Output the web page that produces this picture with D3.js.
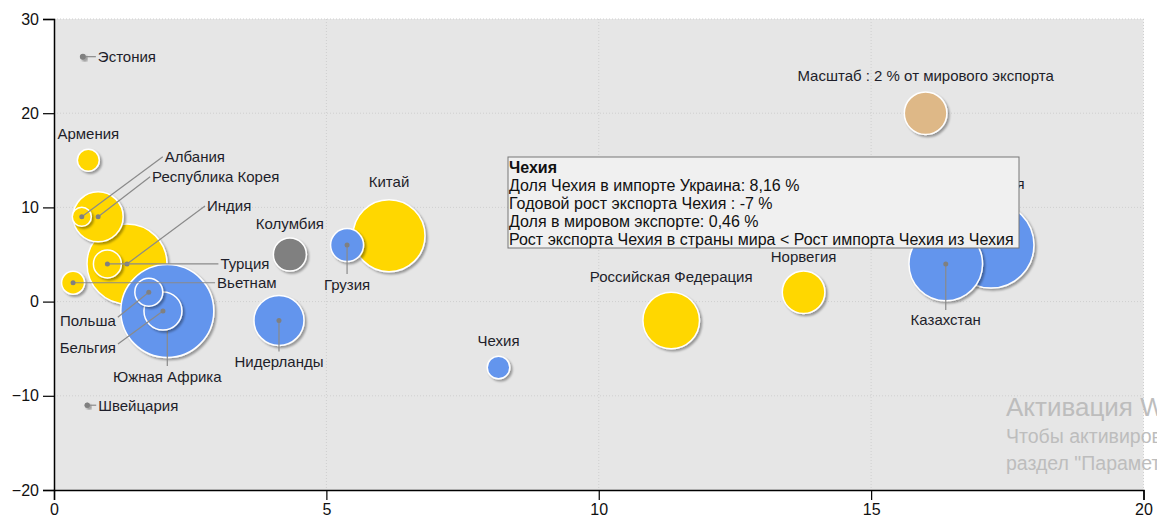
<!DOCTYPE html>
<html>
<head>
<meta charset="utf-8">
<script src="https://cdn.jsdelivr.net/npm/d3@7"></script>
<style>
  body { margin: 0; background: #fff; }
  text { font-family: "Liberation Sans", Arial, sans-serif; }
</style>
</head>
<body>
<div class="bubble-chart"></div>
<script>
// Data (drawing order = z-order)
let names = ["Германия", "Казахстан", "Масштаб : 2 % от мирового экспорта", "Норвегия",
    "Российская Федерация", "Чехия", "Китай", "Грузия", "Колумбия", "Нидерланды",
    "Швейцария", "Эстония", "Армения", "Индия", "Южная Африка", "Бельгия", "Польша",
    "Турция", "Вьетнам", "Республика Корея", "Албания"];
let shareUkraine = [17.2, 16.37, 16.0, 13.76, 11.33, 8.16, 6.15, 5.38, 4.33, 4.13,
    0.61, 0.53, 0.63, 1.34, 2.08, 2.0, 1.74, 0.98, 0.35, 0.81, 0.51];
let exportGrowth = [6, 4, 20, 1, -2, -7, 7, 6, 5, -2,
    -11, 26, 15, 4, -1, -1, 1, 4, 2, 9, 9];
let worldShare = [8.15, 5.97, 2.0, 2.0, 3.53, 0.56, 5.71, 1.2, 1.2, 2.76,
    0.03, 0.04, 0.53, 7.05, 9.53, 1.59, 0.86, 0.86, 0.58, 2.76, 0.4];
let groups = ["blue", "blue", "scale", "yellow", "yellow", "blue", "yellow", "blue", "gray", "blue",
    "gray", "gray", "yellow", "yellow", "blue", "blue", "blue", "yellow", "yellow", "yellow", "yellow"];

let xTicks = [0, 5, 10, 15, 20];
let yTicks = [-20, -10, 0, 10, 20, 30];

let tooltipLines = ["Чехия",
    "Доля Чехия в импорте Украина: 8,16 %",
    "Годовой рост экспорта Чехия : -7 %",
    "Доля в мировом экспорте: 0,46 %",
    "Рост экспорта Чехия в страны мира < Рост импорта Чехия из Чехия"];

let watermark = ["Активация Windows", "Чтобы активировать Windows, перейдите в", "раздел \"Параметры\"."];

// Label layout: [dx, dy, anchor, leader line]
let labelPlace = {
    "Германия": [0, -62, "middle", false],
    "Казахстан": [0, 56, "middle", true],
    "Масштаб : 2 % от мирового экспорта": [0, -38, "middle", false],
    "Норвегия": [0, -36, "middle", false],
    "Российская Федерация": [0, -44, "middle", false],
    "Чехия": [0, -27, "middle", false],
    "Китай": [0, -54, "middle", false],
    "Грузия": [0, 39, "middle", true],
    "Колумбия": [0, -31, "middle", false],
    "Нидерланды": [0, 41, "middle", true],
    "Швейцария": [11, 0, "start", true],
    "Эстония": [15, 0, "start", true],
    "Армения": [0, -27, "middle", false],
    "Индия": [80, -58, "start", true],
    "Южная Африка": [0, 65, "middle", true],
    "Бельгия": [-47, 36, "end", true],
    "Польша": [-33, 28, "end", true],
    "Турция": [113, 0, "start", true],
    "Вьетнам": [144, 0, "start", true],
    "Республика Корея": [54, -40, "start", true],
    "Албания": [83, -60, "start", true]
};

let colors = { yellow: "#FFD700", blue: "#6495ED", gray: "#808080", scale: "#DEB887" };

let bubbles = names.map((n, i) => ({
    name: n, x: shareUkraine[i], y: exportGrowth[i], s: worldShare[i], g: groups[i]
}));

// Set-Up
let width = 1173, height = 520;
let plotLeft = 54, plotRight = 1143.5, plotTop = 19, plotBottom = 490;

let svg = d3.select(".bubble-chart").append("svg")
    .attr("width", width)
    .attr("height", height);

let defs = svg.append("defs");
let shadow = defs.append("filter").attr("id", "shadow")
    .attr("x", "-30%").attr("y", "-30%").attr("width", "160%").attr("height", "160%");
shadow.append("feDropShadow")
    .attr("dx", 2).attr("dy", 2).attr("stdDeviation", 1.3)
    .attr("flood-color", "#000").attr("flood-opacity", 0.35);
// the screenshot is cut off at the right, the watermark with it
defs.append("clipPath").attr("id", "crop")
    .append("rect").attr("x", 0).attr("y", 0).attr("width", 1157).attr("height", height);

let x = d3.scaleLinear().domain([0, 20]).range([plotLeft, plotRight]);
let y = d3.scaleLinear().domain([-20, 30]).range([plotBottom, plotTop]);
let r = d3.scaleSqrt().domain([0, 2]).range([0, 21.3]);

// plot background
svg.append("rect")
    .attr("x", plotLeft).attr("y", plotTop)
    .attr("width", plotRight - plotLeft).attr("height", plotBottom - plotTop)
    .attr("fill", "#e6e6e6");

// grid
svg.append("g").selectAll("line").data(xTicks.slice(1))
    .join("line")
    .attr("x1", d => x(d)).attr("x2", d => x(d))
    .attr("y1", plotTop).attr("y2", plotBottom)
    .attr("stroke", "#cfcfcf").attr("stroke-dasharray", "1,2");
svg.append("g").selectAll("line").data(yTicks.slice(1))
    .join("line")
    .attr("x1", plotLeft).attr("x2", plotRight)
    .attr("y1", d => y(d)).attr("y2", d => y(d))
    .attr("stroke", "#cfcfcf").attr("stroke-dasharray", "1,2");

// watermark
let wm = svg.append("g").attr("clip-path", "url(#crop)").attr("fill", "#bdbdbd");
wm.append("text").attr("x", 1006).attr("y", 416).attr("font-size", 26).text(watermark[0]);
wm.append("text").attr("x", 1006).attr("y", 443).attr("font-size", 19.5).text(watermark[1]);
wm.append("text").attr("x", 1006).attr("y", 470).attr("font-size", 19.5).text(watermark[2]);

// axes
let xAxis = svg.append("g")
    .attr("transform", `translate(0,${plotBottom})`)
    .call(d3.axisBottom(x).tickValues(xTicks).tickSize(10).tickPadding(4));
let yAxis = svg.append("g")
    .attr("transform", `translate(${plotLeft},0)`)
    .call(d3.axisLeft(y).tickValues(yTicks).tickSize(11).tickPadding(4));
[xAxis, yAxis].forEach(a => {
    a.select(".domain").attr("stroke", "#000").attr("stroke-width", 1.5);
    a.selectAll(".tick line").attr("stroke", "#000").attr("stroke-width", 1.2);
    a.selectAll(".tick text")
        .attr("font-family", "'Liberation Sans', Arial, sans-serif")
        .attr("font-size", 16).attr("fill", "#111");
});

// bubbles, leader lines and labels in z-order
let marks = svg.append("g");
bubbles.forEach(b => {
    let cx = x(b.x), cy = y(b.y);
    let [dx, dy, anchor, lead] = labelPlace[b.name];
    let g = marks.append("g");
    g.append("circle")
        .attr("cx", cx).attr("cy", cy)
        .attr("r", r(b.s))
        .attr("fill", colors[b.g])
        .attr("stroke", "#fff")
        .attr("stroke-width", r(b.s) > 5 ? 1.5 : 0)
        .attr("filter", "url(#shadow)");
    if (lead) {
        let ex = dx, ey = dy;
        if (anchor === "start") ex = dx - 2;
        else if (anchor === "end") { ex = dx + 2; ey = dy - 3; }
        else ey = dy - 10;
        g.append("line")
            .attr("x1", cx).attr("y1", cy)
            .attr("x2", cx + ex).attr("y2", cy + ey)
            .attr("stroke", "#8a8a8a").attr("stroke-width", 1.2);
        g.append("circle")
            .attr("cx", cx).attr("cy", cy).attr("r", 2.5)
            .attr("fill", "#808080");
    }
    g.append("text")
        .attr("x", cx + dx).attr("y", cy + dy)
        .attr("text-anchor", anchor)
        .attr("dominant-baseline", "central")
        .attr("font-size", 15)
        .attr("fill", "#1e1e2a")
        .text(b.name);
});

// tooltip
let tip = svg.append("g").attr("transform", "translate(508,157)");
tip.append("rect")
    .attr("x", 0).attr("y", 0).attr("width", 511).attr("height", 91)
    .attr("fill", "#f0f0f0").attr("stroke", "#767676").attr("stroke-width", 1);
tip.selectAll("text").data(tooltipLines)
    .join("text")
    .attr("x", 1)
    .attr("y", (d, i) => 16 + i * 18)
    .attr("font-size", 16)
    .attr("font-weight", (d, i) => i === 0 ? "bold" : "normal")
    .attr("fill", "#111")
    .text(d => d);
</script>
</body>
</html>
